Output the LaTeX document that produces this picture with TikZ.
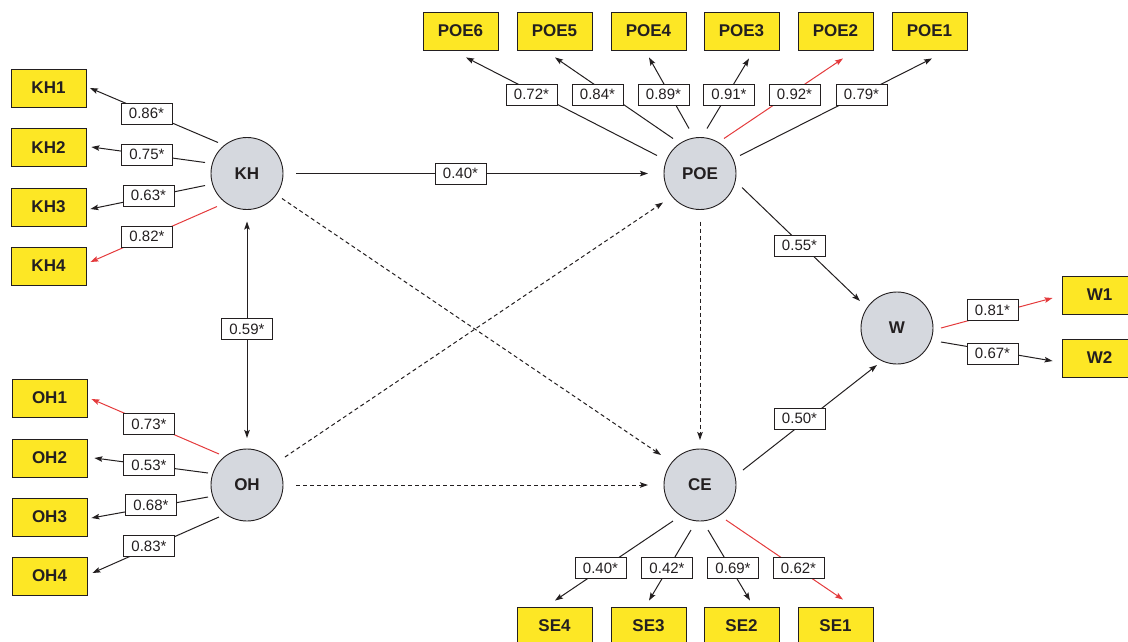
\documentclass[tikz,border=0pt]{standalone}
\usepackage{fontspec}
\setmainfont{Liberation Sans}
\usetikzlibrary{arrows.meta,calc}
\definecolor{ybox}{RGB}{253,231,37}
\definecolor{lv}{RGB}{213,216,222}
\definecolor{rd}{RGB}{228,58,60}
\definecolor{ink}{RGB}{35,31,32}
\begin{document}
\begin{tikzpicture}[x=1pt,y=-1pt,
  ind/.style={draw=ink, fill=ybox, line width=0.9pt, minimum width=75pt, minimum height=38pt, inner sep=0pt, font=\fontsize{17}{19}\selectfont\bfseries, text=ink},
  lat/.style={circle, draw=ink, fill=lv, line width=0.9pt, minimum size=72pt, inner sep=0pt, font=\fontsize{17}{19}\selectfont\bfseries, text=ink},
  lbl/.style={draw=ink, fill=white, line width=0.8pt, minimum width=51pt, minimum height=21pt, inner sep=0pt, font=\fontsize{15}{17}\selectfont, text=ink},
  ld/.style={draw=ink, line width=1pt, -{Stealth[length=8pt,width=5.5pt,inset=1.5pt]}},
  rl/.style={ld, draw=rd},
  dl/.style={ld, dash pattern=on 4pt off 3pt},
  bl/.style={draw=ink, line width=1pt, {Stealth[length=8pt,width=5.5pt,inset=1.5pt]}-{Stealth[length=8pt,width=5.5pt,inset=1.5pt]}}
]
\useasboundingbox (0,0) rectangle (1128,641);

% latent variables
\node[lat] (KH) at (247,173.5) {KH};
\node[lat] (OH) at (247,485) {OH};
\node[lat] (POE) at (700,173.5) {POE};
\node[lat] (CE) at (700,485) {CE};
\node[lat] (W) at (897,328) {W};

% indicators
\node[ind] (KH1) at (48.5,88) {KH1};
\node[ind] (KH2) at (48.5,147.5) {KH2};
\node[ind] (KH3) at (48.5,207) {KH3};
\node[ind] (KH4) at (48.5,266) {KH4};
\node[ind] (OH1) at (49.5,398) {OH1};
\node[ind] (OH2) at (49.5,458) {OH2};
\node[ind] (OH3) at (49.5,517) {OH3};
\node[ind] (OH4) at (49.5,576) {OH4};
\node[ind] (POE6) at (460.5,31) {POE6};
\node[ind] (POE5) at (554.5,31) {POE5};
\node[ind] (POE4) at (648.5,31) {POE4};
\node[ind] (POE3) at (741.5,31) {POE3};
\node[ind] (POE2) at (835.5,31) {POE2};
\node[ind] (POE1) at (929.5,31) {POE1};
\node[ind] (SE4) at (554.5,626) {SE4};
\node[ind] (SE3) at (648.5,626) {SE3};
\node[ind] (SE2) at (741.5,626) {SE2};
\node[ind] (SE1) at (835.5,626) {SE1};
\node[ind] (W1) at (1099.5,295) {W1};
\node[ind] (W2) at (1099.5,358) {W2};

% KH loadings
\draw[ld] ($(KH.center)+(-29,-31)$) -- ($(KH1.east)+(3.5,0)$);
\draw[ld] ($(KH.center)+(-42,-11)$) -- ($(KH2.east)+(5,-0.5)$);
\draw[ld] ($(KH.center)+(-42,12)$) -- ($(KH3.east)+(4,2)$);
\draw[rl] ($(KH.center)+(-30,33)$) -- ($(KH4.east)+(4,-4)$);
% OH loadings
\draw[rl] ($(OH.center)+(-28,-31)$) -- ($(OH1.east)+(4,1)$);
\draw[ld] ($(OH.center)+(-39,-12)$) -- ($(OH2.east)+(7,0)$);
\draw[ld] ($(OH.center)+(-39,12)$) -- ($(OH3.east)+(4,1)$);
\draw[ld] ($(OH.center)+(-28,32)$) -- ($(OH4.east)+(5,-3)$);
% POE loadings
\draw[ld] ($(POE.center)+(-43,-18)$) -- ($(POE6.south)+(5.5,7)$);
\draw[ld] ($(POE.center)+(-27,-35)$) -- ($(POE5.south)+(0.5,7)$);
\draw[ld] ($(POE.center)+(-11,-45)$) -- ($(POE4.south)+(0.5,7)$);
\draw[ld] ($(POE.center)+(7,-45)$) -- ($(POE3.south)+(7.5,8)$);
\draw[rl] ($(POE.center)+(24,-35)$) -- ($(POE2.south)+(7.5,8)$);
\draw[ld] ($(POE.center)+(40,-18)$) -- ($(POE1.south)+(2.5,8)$);
% CE loadings
\draw[ld] ($(CE.center)+(-27,36)$) -- ($(SE4.north)+(0.5,-6)$);
\draw[ld] ($(CE.center)+(-9,45)$) -- ($(SE3.north)+(0.5,-6)$);
\draw[ld] ($(CE.center)+(8,45)$) -- ($(SE2.north)+(8.5,-6)$);
\draw[rl] ($(CE.center)+(26,35)$) -- ($(SE1.north)+(7.5,-7)$);
% W loadings
\draw[rl] ($(W.center)+(44,0)$) -- ($(W1.west)+(-9,3)$);
\draw[ld] ($(W.center)+(44,14)$) -- ($(W2.west)+(-9,3)$);

% structural paths
\draw[bl] ($(KH.center)+(0,48)$) -- ($(OH.center)+(0,-47)$);
\draw[ld] ($(KH.center)+(49,0)$) -- ($(POE.center)+(-52,0)$);
\draw[dl] ($(KH.center)+(35,25)$) -- ($(CE.center)+(-39,-30)$);
\draw[dl] ($(OH.center)+(38,-28)$) -- ($(POE.center)+(-37,29)$);
\draw[dl] ($(OH.center)+(49,0)$) -- ($(CE.center)+(-52,0)$);
\draw[dl] ($(POE.center)+(0,48)$) -- ($(CE.center)+(0,-45)$);
\draw[ld] ($(POE.center)+(42,14)$) -- ($(W.center)+(-37,-27)$);
\draw[ld] ($(CE.center)+(43,-15)$) -- ($(W.center)+(-20,37)$);

% coefficient labels
\node[lbl] (lKH1) at (146.5,113.5) {0.86*};
\node[lbl] (lKH2) at (147,154.5) {0.75*};
\node[lbl] (lKH3) at (148.5,195.5) {0.63*};
\node[lbl] (lKH4) at (147,236.5) {0.82*};
\node[lbl] (lOH1) at (149,424) {0.73*};
\node[lbl] (lOH2) at (149,465) {0.53*};
\node[lbl] (lOH3) at (151,505) {0.68*};
\node[lbl] (lOH4) at (149,546) {0.83*};
\node[lbl] (lKHOH) at (247,329) {0.59*};
\node[lbl] (lKHPOE) at (460.5,173.5) {0.40*};
\node[lbl] (lPOE6) at (531.5,94.5) {0.72*};
\node[lbl] (lPOE5) at (597.5,94.5) {0.84*};
\node[lbl] (lPOE4) at (663.5,94.5) {0.89*};
\node[lbl] (lPOE3) at (729,94.5) {0.91*};
\node[lbl] (lPOE2) at (794.5,94.5) {0.92*};
\node[lbl] (lPOE1) at (861.5,94.5) {0.79*};
\node[lbl] (lPOEW) at (799.5,245.5) {0.55*};
\node[lbl] (lCEW) at (799.5,418.5) {0.50*};
\node[lbl] (lW1) at (992.5,310) {0.81*};
\node[lbl] (lW2) at (992.5,353.5) {0.67*};
\node[lbl] (lSE4) at (600.5,568) {0.40*};
\node[lbl] (lSE3) at (667,568) {0.42*};
\node[lbl] (lSE2) at (733,568) {0.69*};
\node[lbl] (lSE1) at (798.5,568) {0.62*};
\end{tikzpicture}
\end{document}
